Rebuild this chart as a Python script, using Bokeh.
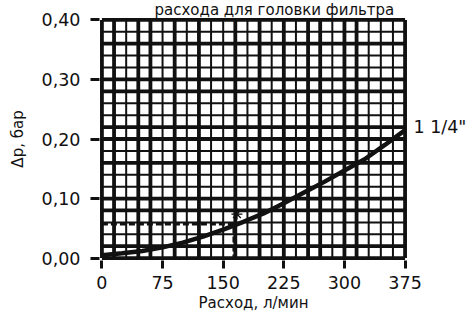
from bokeh.plotting import figure
from bokeh.models import Range1d, FixedTicker, ColumnDataSource, LinearAxis
from bokeh.embed import file_html
from bokeh.resources import INLINE

# ---- data ----
flow = [0, 25, 50, 75, 100, 125, 150, 175, 200, 225, 250, 275, 300, 325, 350, 375]
dp = [0.005, 0.008, 0.012, 0.018, 0.026, 0.036, 0.048, 0.061, 0.075, 0.092,
      0.110, 0.128, 0.147, 0.166, 0.190, 0.215]
series_label = '1 1/4"'
series_label_at = [0.22]

x_ticks = [0, 75, 150, 225, 300, 375]
x_tick_labels = ["0", "75", "150", "225", "300", "375"]
y_ticks = [0.0, 0.1, 0.2, 0.3, 0.4]
y_tick_labels = ["0,00", "0,10", "0,20", "0,30", "0,40"]

grid_x = [0, 15, 30, 45, 60, 75, 90, 105, 120, 135, 150, 165, 180, 195, 210,
          225, 240, 255, 270, 285, 300, 315, 330, 345, 360, 375]
thick_x = [0, 15, 45, 60, 90, 120, 165, 195, 225, 255, 270, 300, 315, 375]
grid_y = [0.00, 0.02, 0.04, 0.06, 0.08, 0.10, 0.12, 0.14, 0.16, 0.18, 0.20,
          0.22, 0.24, 0.26, 0.28, 0.30, 0.32, 0.34, 0.36, 0.38, 0.40]
thick_y = [0.00, 0.02, 0.08, 0.10, 0.16, 0.20, 0.22, 0.28, 0.30, 0.36, 0.40]

ref_flow = [0, 163, 163]
ref_dp = [0.057, 0.057, 0.0]
mark_flow = [167]
mark_dp = [0.074]

title_text = "расхода для головки фильтра"
x_label = "Расход, л/мин"
y_label = "Δp, бар"

FONT = "DejaVu Sans"
INK = "#111111"

p = figure(width=475, height=315,
           x_range=Range1d(-3, 378), y_range=Range1d(-0.004, 0.404),
           output_backend="svg", toolbar_location=None,
           min_border_left=99, min_border_right=68,
           min_border_top=14, min_border_bottom=55)
p.xgrid.visible = False
p.ygrid.visible = False
p.outline_line_color = None
p.background_fill_color = "white"
p.border_fill_color = "white"

# title (second line of the original caption)
p.title.text = title_text
p.title.text_font = FONT
p.title.text_font_size = "15px"
p.title.text_font_style = "normal"
p.title.text_color = INK
p.title.align = "left"
p.title.offset = 55
p.title.standoff = -3

# grid paper
vx = ColumnDataSource(dict(
    x=grid_x,
    y0=[0.0] * len(grid_x),
    y1=[0.40] * len(grid_x),
    w=[3.8 if g in thick_x else 2.0 for g in grid_x],
))
p.segment(x0="x", y0="y0", x1="x", y1="y1", line_width="w", line_color=INK, source=vx)
hy = ColumnDataSource(dict(
    y=grid_y,
    x0=[0] * len(grid_y),
    x1=[375] * len(grid_y),
    w=[3.8 if g in thick_y else 2.0 for g in grid_y],
))
p.segment(x0="x0", y0="y", x1="x1", y1="y", line_width="w", line_color=INK, source=hy)

# reference dashed lines and marker
p.line(ref_flow, ref_dp, line_width=2.5, line_color=INK, line_dash="6 3")
p.scatter(mark_flow, mark_dp, marker="asterisk", size=11, line_width=1.3, line_color=INK)

# curve
p.line(flow, dp, line_width=4.5, line_color=INK)

# curve label on a right-hand axis
rax = LinearAxis(ticker=FixedTicker(ticks=series_label_at),
                 major_label_overrides=dict(zip(series_label_at, [series_label])))
p.add_layout(rax, "right")

for ax in (p.xaxis[0], p.yaxis[0]):
    ax.axis_line_color = None
    ax.minor_tick_line_color = None
    ax.major_tick_line_color = INK
    ax.major_tick_line_width = 3
    ax.major_tick_in = 0
    ax.major_label_text_font = FONT
    ax.major_label_text_font_size = "17.5px"
    ax.major_label_text_color = INK
    ax.axis_label_text_font = FONT
    ax.axis_label_text_font_size = "15px"
    ax.axis_label_text_font_style = "normal"
    ax.axis_label_text_color = INK

rax.axis_line_color = None
rax.major_tick_line_color = None
rax.minor_tick_line_color = None
rax.major_tick_in = 0
rax.major_tick_out = 0
rax.major_label_standoff = 6
rax.major_label_text_font = FONT
rax.major_label_text_font_size = "17.5px"
rax.major_label_text_color = INK

p.xaxis[0].ticker = FixedTicker(ticks=x_ticks)
p.xaxis[0].major_label_overrides = dict(zip(x_ticks, x_tick_labels))
p.xaxis[0].major_tick_out = 8
p.xaxis[0].major_label_standoff = 7
p.xaxis[0].axis_label = x_label
p.xaxis[0].axis_label_standoff = 2

p.yaxis[0].ticker = FixedTicker(ticks=y_ticks)
p.yaxis[0].major_label_overrides = dict(zip(y_ticks, y_tick_labels))
p.yaxis[0].major_tick_out = 9
p.yaxis[0].major_label_standoff = 10
p.yaxis[0].axis_label = y_label
p.yaxis[0].axis_label_standoff = 12

open("out.html", "w").write(file_html(p, INLINE))
